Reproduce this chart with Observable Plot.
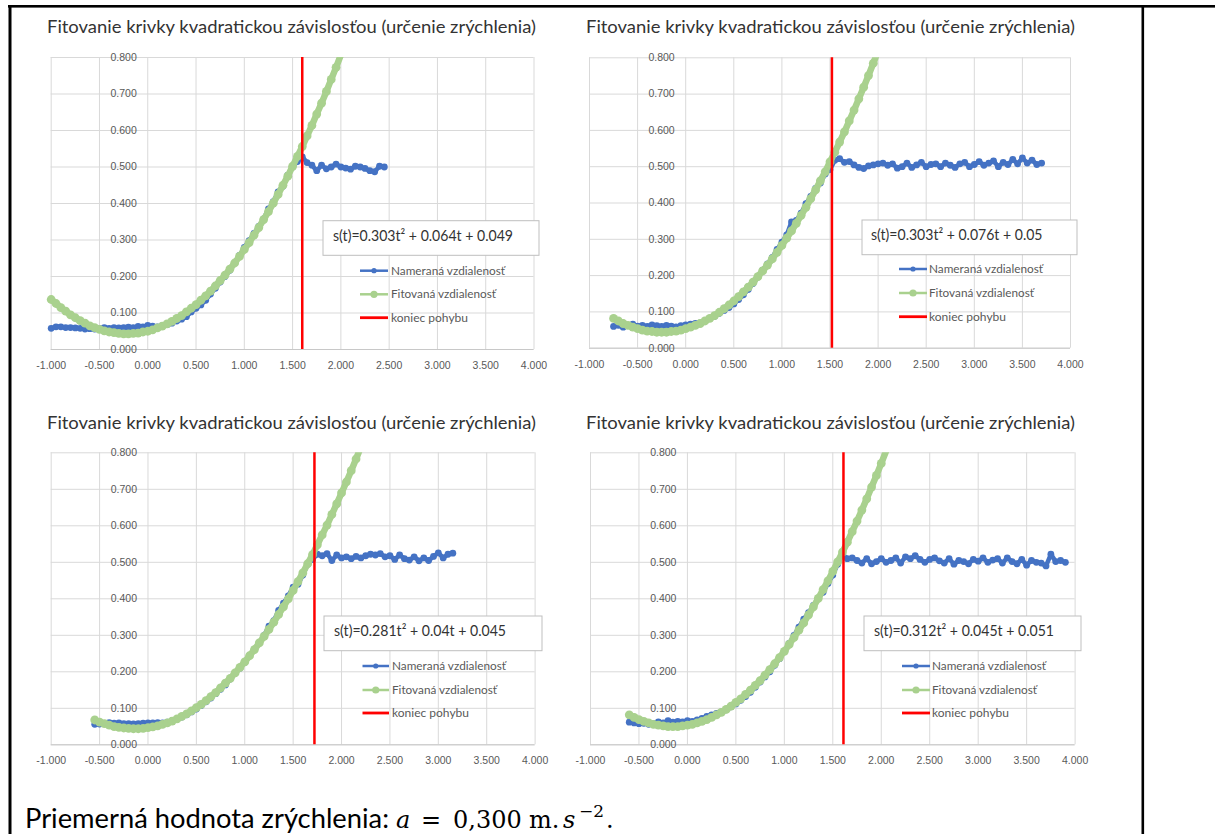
<!DOCTYPE html>
<html><head><meta charset="utf-8">
<script src="https://cdn.jsdelivr.net/npm/d3@7"></script>
<script src="https://cdn.jsdelivr.net/npm/@observablehq/plot@0.6"></script>
<style>
body{margin:0;background:#fff}
#page{position:relative;width:1215px;height:834px;overflow:hidden;background:#fff}
.chart{position:absolute}
#overlay{position:absolute;left:0;top:0}
</style></head><body><div id="page"></div>
<script>
// ---------- data ----------
const panelTitle = "Fitovanie krivky kvadratickou závislosťou (určenie zrýchlenia)";
const seriesNames = ["Nameraná vzdialenosť", "Fitovaná vzdialenosť", "koniec pohybu"];
const equations = [
  "s(t)=0.303t² + 0.064t + 0.049",
  "s(t)=0.303t² + 0.076t + 0.05",
  "s(t)=0.281t² + 0.04t + 0.045",
  "s(t)=0.312t² + 0.045t + 0.051"
];
const xTicks = [-1, -0.5, 0, 0.5, 1, 1.5, 2, 2.5, 3, 3.5, 4];
const yTicks = [0, 0.1, 0.2, 0.3, 0.4, 0.5, 0.6, 0.7, 0.8];
const endOfMotion = [1.60, 1.52, 1.72, 1.61];
const sampleStep = 0.05;
const measStart = [-1.00, -0.75, -0.55, -0.60];
const fitStart = [-1.00, -0.75, -0.55, -0.60];

const meas1 = [0.058,0.062,0.062,0.060,0.060,0.059,0.058,0.056,0.057,0.056,
 0.058,0.060,0.058,0.060,0.059,0.060,0.061,0.060,0.063,0.062,
 0.066,0.064,0.062,0.065,0.068,0.072,0.078,0.083,0.090,0.103,
 0.113,0.122,0.135,0.152,0.168,0.185,0.200,0.217,0.237,0.258,
 0.280,0.298,0.318,0.337,0.358,0.385,0.405,0.432,0.447,0.478,
 0.500,0.515,0.528,0.512,0.505,0.490,0.505,0.495,0.500,0.508,
 0.500,0.497,0.494,0.502,0.500,0.496,0.490,0.487,0.502,0.500];
const fit1 = [0.137,0.126,0.115,0.105,0.095,0.087,0.079,0.072,0.065,0.060,
 0.055,0.051,0.048,0.046,0.044,0.043,0.043,0.044,0.045,0.048,
 0.050,0.054,0.059,0.064,0.070,0.077,0.085,0.093,0.103,0.113,
 0.123,0.135,0.147,0.160,0.174,0.189,0.204,0.220,0.237,0.255,
 0.274,0.293,0.313,0.334,0.356,0.378,0.401,0.425,0.450,0.475,
 0.502,0.529,0.556,0.585,0.614,0.645,0.675,0.707,0.740,0.773,
 0.807,0.841];
const meas2 = [0.060,0.063,0.058,0.062,0.066,0.061,0.063,0.060,0.064,0.062,
 0.060,0.063,0.061,0.059,0.062,0.064,0.066,0.068,0.070,0.075,
 0.082,0.088,0.096,0.104,0.112,0.122,0.134,0.147,0.162,0.178,
 0.196,0.215,0.232,0.250,0.272,0.292,0.312,0.348,0.352,0.372,
 0.398,0.418,0.440,0.455,0.480,0.492,0.518,0.522,0.512,0.514,
 0.505,0.498,0.495,0.502,0.505,0.508,0.510,0.504,0.508,0.496,
 0.500,0.510,0.498,0.505,0.512,0.500,0.506,0.508,0.500,0.510,
 0.504,0.498,0.508,0.512,0.500,0.506,0.514,0.504,0.510,0.516,
 0.500,0.512,0.506,0.520,0.508,0.524,0.510,0.518,0.506,0.510];
const fit2 = [0.082,0.075,0.068,0.063,0.058,0.054,0.050,0.047,0.046,0.044,
 0.044,0.044,0.046,0.047,0.050,0.054,0.058,0.063,0.068,0.075,
 0.082,0.090,0.099,0.109,0.119,0.130,0.142,0.155,0.168,0.182,
 0.197,0.213,0.229,0.246,0.264,0.283,0.303,0.323,0.344,0.366,
 0.388,0.412,0.436,0.461,0.486,0.513,0.540,0.568,0.596,0.626,
 0.656,0.687,0.719,0.751,0.785,0.819];
const meas3 = [0.056,0.057,0.058,0.061,0.059,0.060,0.058,0.058,0.057,0.058,
 0.059,0.060,0.060,0.061,0.060,0.062,0.066,0.070,0.076,0.082,
 0.090,0.098,0.108,0.118,0.128,0.140,0.152,0.164,0.180,0.196,
 0.210,0.226,0.245,0.262,0.280,0.300,0.325,0.340,0.368,0.388,
 0.408,0.432,0.440,0.465,0.495,0.508,0.522,0.518,0.524,0.505,
 0.520,0.512,0.515,0.510,0.516,0.512,0.518,0.522,0.520,0.524,
 0.515,0.518,0.508,0.520,0.510,0.506,0.515,0.504,0.512,0.505,
 0.516,0.526,0.512,0.522,0.525];
const fit3 = [0.068,0.062,0.058,0.054,0.050,0.048,0.046,0.045,0.044,0.044,
 0.045,0.047,0.049,0.052,0.056,0.060,0.065,0.071,0.078,0.085,
 0.093,0.102,0.111,0.121,0.132,0.143,0.156,0.169,0.182,0.197,
 0.212,0.227,0.244,0.261,0.279,0.297,0.316,0.336,0.357,0.378,
 0.400,0.423,0.447,0.471,0.496,0.521,0.548,0.575,0.602,0.631,
 0.660,0.690,0.720,0.751,0.783,0.816];
const meas4 = [0.062,0.060,0.058,0.059,0.056,0.058,0.063,0.060,0.066,0.062,
 0.064,0.063,0.066,0.064,0.068,0.072,0.078,0.082,0.086,0.090,
 0.096,0.104,0.112,0.122,0.132,0.144,0.158,0.172,0.186,0.200,
 0.218,0.236,0.256,0.278,0.300,0.322,0.344,0.362,0.382,0.402,
 0.418,0.442,0.465,0.495,0.522,0.510,0.512,0.505,0.498,0.510,
 0.496,0.502,0.510,0.500,0.505,0.512,0.498,0.515,0.510,0.518,
 0.508,0.500,0.508,0.512,0.504,0.498,0.510,0.495,0.505,0.502,
 0.496,0.508,0.503,0.512,0.500,0.506,0.510,0.498,0.512,0.502,
 0.496,0.508,0.492,0.505,0.500,0.498,0.490,0.522,0.502,0.505,
 0.500];
const fit4 = [0.082,0.075,0.069,0.064,0.060,0.056,0.054,0.052,0.050,0.050,
 0.050,0.052,0.054,0.056,0.060,0.064,0.069,0.075,0.082,0.089,
 0.097,0.106,0.116,0.126,0.138,0.150,0.163,0.176,0.191,0.206,
 0.222,0.239,0.256,0.275,0.294,0.314,0.334,0.356,0.378,0.401,
 0.425,0.449,0.475,0.501,0.528,0.555,0.584,0.613,0.643,0.674,
 0.706,0.738,0.771,0.805];
const measured = [meas1, meas2, meas3, meas4];
const fitted = [fit1, fit2, fit3, fit4];

// ---------- layout (page pixels) ----------
const layout = [
  {left: 0,   top: 40,  w: 560, h: 345, ml: 50.7, mr: 26.5, mt: 17,   mb: 36,
   titleX: 47,  titleY: 33.3, box: [323, 220.7, 539, 255.3], eqX: 333, eqY: 240.5, eqW: 180,
   legLine: [360, 388], legText: 391, legRows: [270.7, 294.3, 317.7]},
  {left: 560, top: 40,  w: 560, h: 345, ml: 29,   mr: 50,   mt: 17.3, mb: 37.3,
   titleX: 586, titleY: 33.3, box: [862, 220, 1077, 254.7], eqX: 871, eqY: 240, eqW: 171.5,
   legLine: [899, 927], legText: 929, legRows: [269, 293, 316.7]},
  {left: 0,   top: 435, w: 560, h: 345, ml: 50.7, mr: 25.4, mt: 17.3, mb: 35.7,
   titleX: 47,  titleY: 429.3, box: [324, 616, 542, 650.7], eqX: 334, eqY: 636, eqW: 172,
   legLine: [362.5, 389], legText: 392, legRows: [666, 690, 713]},
  {left: 560, top: 435, w: 560, h: 345, ml: 30,   mr: 45.4, mt: 17.3, mb: 35.7,
   titleX: 586, titleY: 429.3, box: [864, 616, 1081, 650.7], eqX: 874, eqY: 636, eqW: 180,
   legLine: [902, 930], legText: 932, legRows: [666, 690, 713]}
];
const colBlue = "#4472C4", colGreen = "#A9D18E", colRed = "#FF0000";

const page = d3.select("#page");

function toRows(values, start) {
  return values.map((s, i) => ({t: Math.round((start + i * sampleStep) * 1000) / 1000, s}));
}

measured.forEach((vals, k) => {
  const L = layout[k];
  const meas = toRows(vals, measStart[k]);
  const fit = toRows(fitted[k], fitStart[k]);
  const chart = Plot.plot({
    width: L.w, height: L.h,
    marginLeft: L.ml, marginRight: L.mr, marginTop: L.mt, marginBottom: L.mb,
    x: {domain: [-1, 4]},
    y: {domain: [0, 0.8], axis: null},
    style: {fontFamily: "'Liberation Sans', Arial, sans-serif", fontSize: "10.5px", color: "#595959", background: "transparent", overflow: "visible"},
    marks: [
      Plot.gridX(xTicks, {stroke: "#d9d9d9", strokeOpacity: 1, strokeWidth: 1}),
      Plot.gridY(yTicks, {stroke: "#d9d9d9", strokeOpacity: 1, strokeWidth: 1}),
      Plot.ruleY([0], {stroke: "#c8c8c8", strokeWidth: 1}),
      Plot.axisX(xTicks, {tickSize: 0, tickPadding: 12, tickFormat: d => d.toFixed(3), label: null}),
      Plot.text(yTicks, {x: 0, y: d => d, text: d => d.toFixed(3), textAnchor: "end", dx: -11, fill: "#595959"}),
      Plot.line(meas, {x: "t", y: "s", stroke: colBlue, strokeWidth: 4.5, strokeLinejoin: "round"}),
      Plot.dot(meas, {x: "t", y: "s", r: 3.4, fill: colBlue}),
      Plot.line(fit, {x: "t", y: "s", stroke: colGreen, strokeWidth: 6.5, strokeLinejoin: "round", clip: true}),
      Plot.dot(fit.filter(d => d.s <= 0.8), {x: "t", y: "s", r: 4.4, fill: colGreen}),
      Plot.ruleX([endOfMotion[k]], {y1: 0, y2: 0.8, stroke: colRed, strokeWidth: 2.5})
    ]
  });
  d3.select(chart).attr("class", "chart").style("left", L.left + "px").style("top", L.top + "px");
  page.node().appendChild(chart);
});

// ---------- overlay: table lines, titles, equations, legends, note ----------
const ov = page.append("svg").attr("id", "overlay").attr("width", 1215).attr("height", 834);
ov.append("rect").attr("x", 8).attr("y", 5).attr("width", 1207).attr("height", 2.6).attr("fill", "#000");
ov.append("rect").attr("x", 8.5).attr("y", 5).attr("width", 3).attr("height", 829).attr("fill", "#000");
ov.append("rect").attr("x", 1141.5).attr("y", 5).attr("width", 2.6).attr("height", 829).attr("fill", "#000");

layout.forEach((L, k) => {
  ov.append("text").attr("x", L.titleX).attr("y", L.titleY)
    .attr("textLength", 489).attr("lengthAdjust", "spacingAndGlyphs")
    .style("font-family", "Lato, 'Open Sans', sans-serif").style("font-size", "17.5px").attr("fill", "#333")
    .text(panelTitle);
  const [x1, y1, x2, y2] = L.box;
  ov.append("rect").attr("x", x1).attr("y", y1).attr("width", x2 - x1).attr("height", y2 - y1)
    .attr("fill", "#fff").attr("stroke", "#bfbfbf").attr("stroke-width", 1);
  ov.append("text").attr("x", L.eqX).attr("y", L.eqY)
    .attr("textLength", L.eqW).attr("lengthAdjust", "spacingAndGlyphs")
    .style("font-family", "Lato, 'Open Sans', sans-serif").style("font-size", "14.5px").attr("fill", "#333")
    .text(equations[k]);
  const legColors = [colBlue, colGreen, colRed];
  const legW = [114, 105, 77];
  const legR = [2.6, 3.6, 0];
  seriesNames.forEach((name, i) => {
    const y = L.legRows[i];
    ov.append("line").attr("x1", L.legLine[0]).attr("x2", L.legLine[1]).attr("y1", y).attr("y2", y)
      .attr("stroke", legColors[i]).attr("stroke-width", i === 2 ? 2.8 : 2.5);
    if (legR[i] > 0) ov.append("circle").attr("cx", (L.legLine[0] + L.legLine[1]) / 2).attr("cy", y)
      .attr("r", legR[i]).attr("fill", legColors[i]);
    ov.append("text").attr("x", L.legText).attr("y", y + 3.8)
      .attr("textLength", legW[i]).attr("lengthAdjust", "spacingAndGlyphs")
      .style("font-family", "Lato, 'Open Sans', sans-serif").style("font-size", "11px").attr("fill", "#595959")
      .text(name);
  });
});

// bottom note
const serif = "'DejaVu Serif', 'Liberation Serif', serif";
const note = ov.append("text").attr("y", 828).attr("fill", "#000");
note.append("tspan").attr("x", 25).attr("textLength", 364).attr("lengthAdjust", "spacingAndGlyphs")
  .style("font-family", "Lato, 'Open Sans', sans-serif").style("font-size", "26px").text("Priemerná hodnota zrýchlenia:");
note.append("tspan").attr("x", 396).style("font-family", serif).style("font-style", "italic").style("font-size", "24px").text("a");
note.append("tspan").attr("x", 421).style("font-family", serif).style("font-size", "24px").text("=");
note.append("tspan").attr("x", 453).style("font-family", serif).style("font-size", "24px").text("0,300");
note.append("tspan").attr("x", 529).style("font-family", serif).style("font-size", "24px").text("m.");
note.append("tspan").attr("x", 563).style("font-family", serif).style("font-style", "italic").style("font-size", "24px").text("s");
note.append("tspan").attr("x", 579).attr("dy", -11).style("font-family", serif).style("font-size", "17px").text("−2");
note.append("tspan").attr("x", 606).attr("dy", 11).style("font-family", serif).style("font-size", "24px").text(".");
</script></body></html>
